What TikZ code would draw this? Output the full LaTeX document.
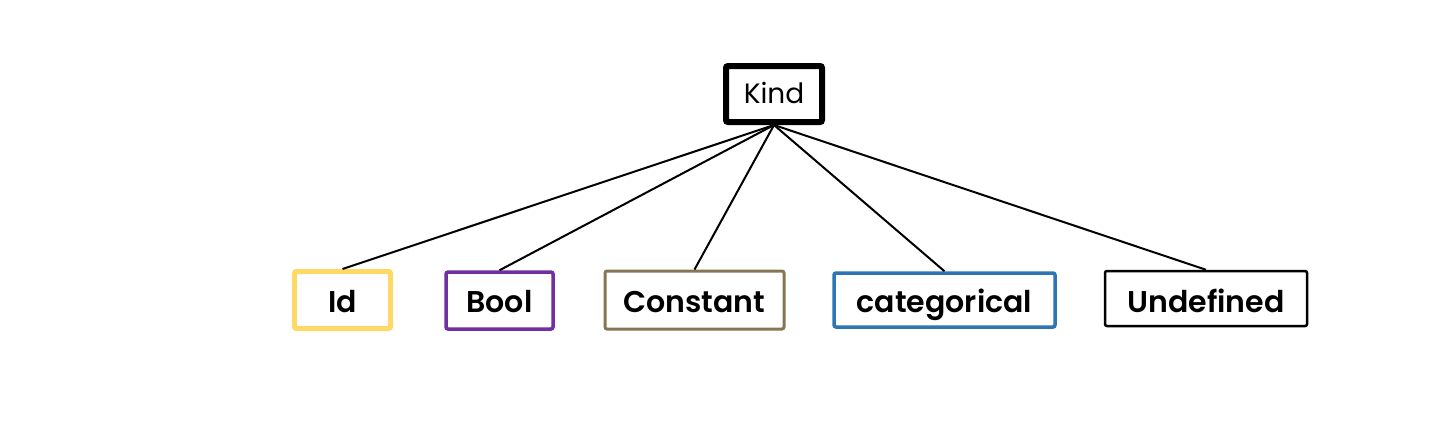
\documentclass[tikz,border=0pt]{standalone}
\usepackage{fontspec}
\setmainfont{Poppins}[BoldFont={Poppins SemiBold}]
\definecolor{cyellow}{HTML}{FFD966}
\definecolor{cpurple}{HTML}{7030A0}
\definecolor{cbrown}{HTML}{857652}
\definecolor{cblue}{HTML}{2E75B6}
\tikzset{
  kid/.style={draw, rounded corners=1pt, inner sep=0pt, text height=14pt, text depth=2pt, font=\fontsize{15}{18}\selectfont\bfseries},
  edge/.style={draw=black, line width=1pt},
}
\begin{document}
\begin{tikzpicture}[x=0.5pt, y=-0.5pt]
\useasboundingbox (0,0) rectangle (1429,447);
\node[draw, line width=3pt, rounded corners=1pt, minimum width=48pt, minimum height=28pt, inner sep=0pt, text height=11pt, text depth=2pt, font=\fontsize{14}{16}\selectfont] (kind) at (774,94) {Kind};
\node[kid, draw=cyellow, line width=2.5pt, minimum width=48pt, minimum height=28.5pt] (id) at (342.5,300) {Id};
\node[kid, draw=cpurple, line width=1.75pt, minimum width=53.5pt, minimum height=28.5pt] (bool) at (499.5,300.5) {Bool};
\node[kid, draw=cbrown, line width=1.5pt, minimum width=89.5pt, minimum height=29pt] (const) at (694.5,300) {Constant};
\node[kid, draw=cblue, line width=1.75pt, minimum width=110.5pt, minimum height=27pt] (cat) at (944.5,300) {categorical};
\node[kid, draw=black, line width=1.25pt, minimum width=101pt, minimum height=27.5pt, text height=14.75pt, text depth=1.25pt] (undef) at (1206,298.5) {Undefined};
\foreach \n in {id,bool,const,cat,undef}{
  \draw[edge] (kind.south) -- (\n.north);
}
\end{tikzpicture}
\end{document}
